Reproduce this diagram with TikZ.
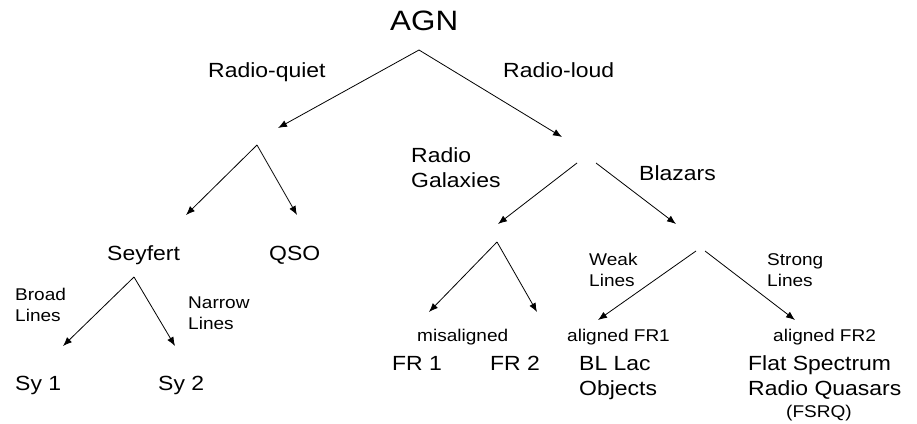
\documentclass[tikz,border=0pt]{standalone}
\usepackage{fontspec}
\setmainfont{Liberation Sans}[FakeStretch=1.12]
\usetikzlibrary{arrows.meta}
\tikzset{
  lbl/.style={anchor=base west, inner sep=0pt, font=\fontsize{20.5}{24.5}\selectfont, align=left},
  sml/.style={anchor=base west, inner sep=0pt, font=\fontsize{17}{21}\selectfont, align=left},
  big/.style={anchor=base west, inner sep=0pt, font=\fontsize{28}{32}\selectfont},
  arr/.style={draw=black, line width=0.8pt, -{Latex[length=9pt,width=7pt]}}
}
\begin{document}
\begin{tikzpicture}[x=1pt,y=-1pt]
\useasboundingbox (0,0) rectangle (917,423);
% labels (multi-line nodes: base = last line)
\node[big] (agn) at (390,30) {AGN};
\node[lbl] (rq) at (208,77) {Radio-quiet};
\node[lbl] (rl) at (503,77) {Radio-loud};
\node[lbl] (sey) at (107,260) {Seyfert};
\node[lbl] (qso) at (269,260) {QSO};
\node[sml] (broad) at (15,321) {Broad\\Lines};
\node[sml] (narrow) at (188,329) {Narrow\\Lines};
\node[lbl] (sy1) at (15,390) {Sy 1};
\node[lbl] (sy2) at (158,390) {Sy 2};
\node[lbl] (rg) at (411,187) {Radio\\Galaxies};
\node[lbl] (blz) at (639,180) {Blazars};
\node[sml] (weak) at (589,286) {Weak\\Lines};
\node[sml] (strong) at (767,286) {Strong\\Lines};
\node[sml] (mis) at (417,341) {misaligned};
\node[sml] (al1) at (567,341) {aligned FR1};
\node[sml] (al2) at (773,341) {aligned FR2};
\node[lbl] (fr1) at (392,370) {FR 1};
\node[lbl] (fr2) at (490,370) {FR 2};
\node[lbl] (bll) at (579,395) {BL Lac\\Objects};
\node[lbl] (fsrq) at (748,395) {Flat Spectrum\\Radio Quasars};
\node[sml] (fsrqs) at (786,417) {(FSRQ)};
% arrow coordinates
\coordinate (c0) at (419,50);
\coordinate (e1) at (278,128);
\coordinate (e2) at (562,137);
\coordinate (c1) at (257,145);
\coordinate (e3) at (186,215);
\coordinate (e4) at (297,215);
\coordinate (c2) at (134,277);
\coordinate (e5) at (63,346);
\coordinate (e6) at (175,346);
\coordinate (c3a) at (577,163);
\coordinate (e7) at (498,224);
\coordinate (c3b) at (596,163);
\coordinate (e8) at (676,224);
\coordinate (c4) at (497,242);
\coordinate (e9) at (429,312);
\coordinate (e10) at (537,312);
\coordinate (c5a) at (696,251);
\coordinate (e11) at (598,320);
\coordinate (c5b) at (705,251);
\coordinate (e12) at (795,320);
% arrows
\draw[arr] (c0) -- (e1);
\draw[arr] (c0) -- (e2);
\draw[arr] (c1) -- (e3);
\draw[arr] (c1) -- (e4);
\draw[arr] (c2) -- (e5);
\draw[arr] (c2) -- (e6);
\draw[arr] (c3a) -- (e7);
\draw[arr] (c3b) -- (e8);
\draw[arr] (c4) -- (e9);
\draw[arr] (c4) -- (e10);
\draw[arr] (c5a) -- (e11);
\draw[arr] (c5b) -- (e12);
\end{tikzpicture}
\end{document}
